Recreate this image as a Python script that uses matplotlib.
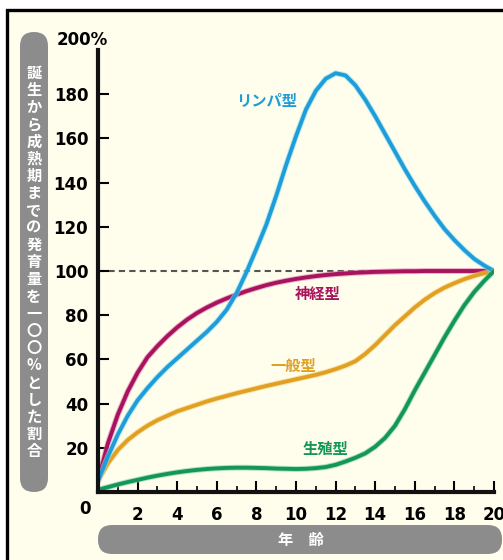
import matplotlib
matplotlib.use("Agg")
import matplotlib.pyplot as plt
import matplotlib.patheffects as pe
from matplotlib.patches import FancyBboxPatch, Rectangle
from matplotlib.ticker import MultipleLocator

# Age in years (every half year)
AGES = [i * 0.5 for i in range(41)]

# Growth as % of the amount reached at 20 years
LYMPH = [5, 16, 26, 34.5, 41.5, 47, 52, 56.5, 60.5, 64.5, 68.5, 72.5, 77, 82.5,
         90, 99.5, 110, 121, 134, 148, 161, 173, 181.5, 187, 189.5, 188.5,
         184, 177.5, 170, 162, 154, 146, 138.5, 131.5, 125, 119, 114, 109.5,
         105.5, 102.5, 100]
NEURAL = [5, 22, 35, 45.5, 54, 61, 66, 70.5, 74.5, 78, 81, 83.5, 85.7, 87.6,
          89.3, 90.9, 92.3, 93.6, 94.7, 95.6, 96.4, 97.1, 97.7, 98.2, 98.6,
          98.9, 99.2, 99.4, 99.6, 99.7, 99.8, 99.9, 99.9, 100, 100, 100, 100,
          100, 100, 100, 100]
GENERAL = [5, 13, 19, 23.5, 27, 30, 32.5, 34.5, 36.5, 38, 39.5, 41, 42.3,
           43.5, 44.7, 45.8, 46.9, 48, 49, 50, 51, 52, 53, 54.2, 55.6, 57.2,
           59.2, 62.5, 66.5, 71, 75.5, 79.5, 83.5, 87, 90, 92.5, 94.5, 96.3,
           97.8, 99, 100]
GENITAL = [1, 2.2, 3.4, 4.5, 5.5, 6.5, 7.4, 8.2, 8.9, 9.5, 10, 10.4, 10.7,
           10.9, 11, 11, 10.9, 10.8, 10.6, 10.5, 10.4, 10.5, 10.8, 11.3, 12.3,
           13.8, 15.5, 17.5, 20.5, 24.5, 30, 37.5, 46, 54, 62, 70, 77.5, 84.5,
           90.5, 95.5, 100]

SERIES = ["神経型", "一般型", "リンパ型", "生殖型"]
VALUES = [NEURAL, GENERAL, LYMPH, GENITAL]
COLORS = ["#a8125f", "#e0a024", "#1f9dd8", "#14965a"]
HALOS = ["#e07aa8", "#f6d27a", "#8fdcf6", "#7fd0a2"]
LABEL_POS = [(11.1, 89.6), (9.85, 57), (8.5, 177), (11.5, 19.5)]

YTICKS = [20, 40, 60, 80, 100, 120, 140, 160, 180]
XTICKS = [2, 4, 6, 8, 10, 12, 14, 16, 18, 20]

YLABEL = "誕生から成熟期までの発育量を一〇〇%とした割合"
XLABEL = "年\u3000齢"

CJK = ["Noto Sans CJK JP", "DejaVu Sans"]
CREAM = "#fffdeb"
PILL = "#8c8c8c"

W, H = 503, 560
fig = plt.figure(figsize=(W / 100, H / 100), dpi=100, facecolor="white")

# Background layer in pixel coordinates
bg = fig.add_axes([0, 0, 1, 1], zorder=0)
bg.set_xlim(0, W)
bg.set_ylim(H, 0)
bg.axis("off")
bg.add_patch(Rectangle((7, 10), 540, 600, facecolor=CREAM, edgecolor="black", lw=2.4))
bg.add_patch(FancyBboxPatch((20, 32), 28, 460, boxstyle="round,pad=0,rounding_size=14",
                            facecolor=PILL, edgecolor="none"))
bg.add_patch(FancyBboxPatch((98, 525), 404, 29, boxstyle="round,pad=0,rounding_size=14",
                            facecolor=PILL, edgecolor="none"))
for i, ch in enumerate(YLABEL):
    bg.text(34, 73 + i * 17.2, ch, color="white", fontsize=11, fontweight="bold",
            family=CJK, ha="center", va="center")
bg.text(301, 540, XLABEL, color="white", fontsize=11, fontweight="bold",
        family=CJK, ha="center", va="center")
bg.text(82, 40, "200%", fontsize=12, fontweight="bold", ha="center", va="center")
bg.text(85, 509, "0", fontsize=12, fontweight="bold", ha="center", va="center")

# Main chart
ax = fig.add_axes([98 / W, (H - 492) / H, 396 / W, 442 / H], zorder=1)
ax.set_facecolor("none")
ax.set_xlim(0, 20)
ax.set_ylim(0, 200)

ax.axhline(100, color="#555555", lw=1.5, ls=(0, (3, 2)), zorder=1)

for name, vals, col, halo, (lx, ly) in zip(SERIES, VALUES, COLORS, HALOS, LABEL_POS):
    ax.plot(AGES, vals, color=col, lw=2.8, solid_capstyle="round",
            solid_joinstyle="round", zorder=2,
            path_effects=[pe.Stroke(linewidth=4.2, foreground=halo, alpha=0.6), pe.Normal()])
    ax.text(lx, ly, name, color=col, fontsize=11, fontweight="bold", family=CJK,
            ha="center", va="center")

for side in ["top", "right"]:
    ax.spines[side].set_visible(False)
for side in ["left", "bottom"]:
    ax.spines[side].set_linewidth(3)
    ax.spines[side].set_color("#111111")

ax.set_yticks(YTICKS)
ax.set_yticklabels([str(v) for v in YTICKS])
ax.set_xticks(XTICKS)
ax.set_xticklabels([str(v) for v in XTICKS])
ax.xaxis.set_minor_locator(MultipleLocator(1))
ax.tick_params(axis="y", direction="in", length=8, width=1.5, pad=7, labelsize=12)
ax.tick_params(axis="x", which="major", direction="in", length=8, width=1.5, pad=10,
               labelsize=12)
ax.tick_params(axis="x", which="minor", direction="in", length=4, width=1.2)
for lab in ax.get_xticklabels() + ax.get_yticklabels():
    lab.set_fontweight("bold")

fig.savefig("out.png", dpi=100, facecolor="white")
